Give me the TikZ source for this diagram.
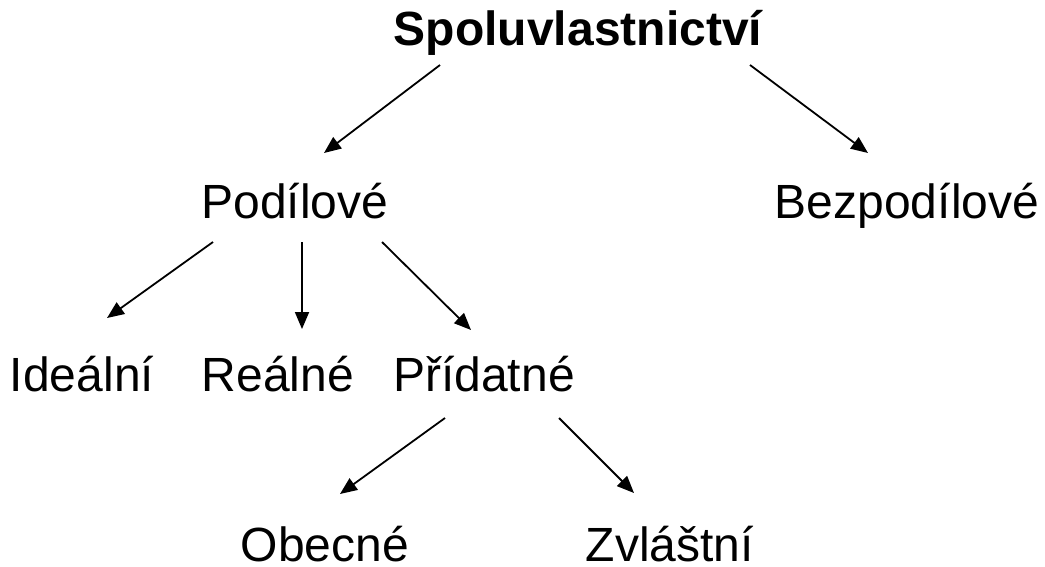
\documentclass[tikz,border=0pt]{standalone}
\usepackage{fontspec}
\setmainfont{Liberation Sans}
\usetikzlibrary{arrows.meta}
\tikzset{lbl/.style={anchor=base,inner sep=0pt,font=\fontsize{48}{58}\selectfont},
  arr/.style={line width=1.8pt,-{Triangle[length=17pt,width=14pt]}}}

\begin{document}
\begin{tikzpicture}[x=1pt,y=-1pt]
  \useasboundingbox (0,0) rectangle (1045,566);
  % labels, placed on their baselines
  \node[lbl,font=\fontsize{48}{58}\selectfont\bfseries] (spol) at (578,45) {Spoluvlastnictví};
  \node[lbl] (pod) at (295,218) {Podílové};
  \node[lbl] (bez) at (907,218) {Bezpodílové};
  \node[lbl] (ide) at (82,391) {Ideální};
  \node[lbl] (rea) at (278,391) {Reálné};
  \node[lbl] (pri) at (484,391) {Přídatné};
  \node[lbl] (obe) at (325,561) {Obecné};
  \node[lbl] (zvl) at (670,561) {Zvláštní};
  % free-standing arrows
  \coordinate (s1) at (440,65);  \coordinate (t1) at (324,153);
  \coordinate (s2) at (750,65);  \coordinate (t2) at (868,153);
  \coordinate (s3) at (213,242); \coordinate (t3) at (107,318);
  \coordinate (s4) at (302,242); \coordinate (t4) at (302,329);
  \coordinate (s5) at (382,242); \coordinate (t5) at (471,330);
  \coordinate (s6) at (445,418); \coordinate (t6) at (340,494);
  \coordinate (s7) at (559,418); \coordinate (t7) at (634,493);
  \foreach \p/\q in {s1/t1,s2/t2,s3/t3,s4/t4,s5/t5,s6/t6,s7/t7} \draw[arr] (\p) -- (\q);
\end{tikzpicture}
\end{document}
